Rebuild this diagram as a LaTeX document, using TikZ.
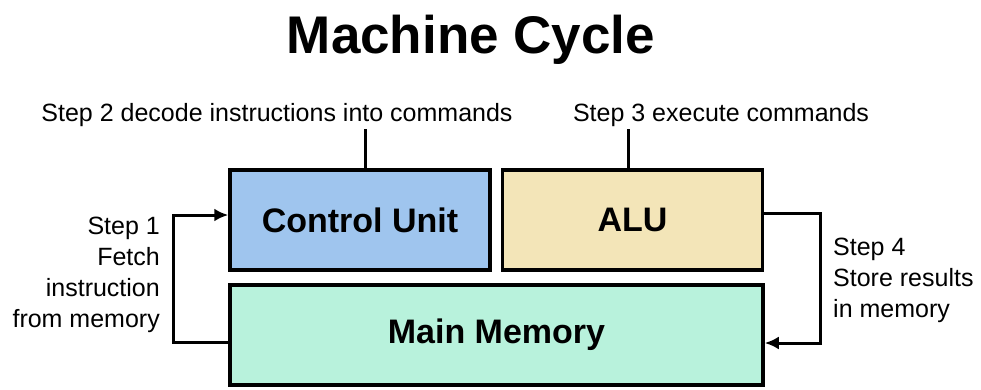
\documentclass[tikz,border=0pt]{standalone}
\usepackage{fontspec}
\setmainfont{Liberation Sans}
\usepackage{xcolor}
\usetikzlibrary{positioning,calc,arrows.meta}
\definecolor{cuBlue}{HTML}{9FC5EE}
\definecolor{aluSand}{HTML}{F3E5B8}
\definecolor{memMint}{HTML}{B8F2DC}
\tikzset{
  unitBox/.style={
    rectangle,
    draw=black,
    line width=3.5pt,
    minimum width=260pt,
    minimum height=100pt,
    align=center,
    font=\fontsize{34}{40}\selectfont\bfseries
  },
  stepText/.style={
    inner sep=2pt,
    font=\fontsize{25}{31}\selectfont
  },
  arrowLine/.style={
    -{Latex[length=14pt,width=13pt]},
    line width=3pt
  },
  plainLine/.style={
    line width=3pt
  }
}

\begin{document}
\begin{tikzpicture}[x=1pt,y=-1pt]
        \useasboundingbox (0,0) rectangle (981,389);
        \node[font=\fontsize{53}{60}\selectfont\bfseries] (title) at (471,40) {Machine Cycle};

        \node[unitBox, fill=cuBlue] (cu) at (360,220) {Control Unit};
        \node[unitBox, fill=aluSand, right=9pt of cu] (alu) {ALU};
        \node[unitBox, fill=memMint, minimum width=533pt] (mm) at (496.5,335) {Main Memory};

        \node[stepText] (step2) at (277,115) {Step 2 decode instructions into commands};
        \node[stepText] (step3) at (721,115) {Step 3 execute commands};
        \node[stepText, align=right, anchor=east] (step1) at (162,275) {Step 1\\Fetch\\instruction\\from memory};
        \node[stepText, align=left, anchor=west] (step4) at (831,280) {Step 4\\Store results\\in memory};

        \draw[plainLine] ([xshift=5pt]cu.north) -- ([xshift=5pt]cu.north |- step2.south);
        \draw[plainLine] ([xshift=-4pt]alu.north) -- ([xshift=-4pt]alu.north |- step3.south);
        \draw[arrowLine] ([yshift=-7pt]mm.west) -- ++(-55,0) |- ([yshift=5pt]cu.west);
        \draw[arrowLine] ([yshift=7pt]alu.east) -- ++(56,0) |- ([yshift=-8pt]mm.east);

    \end{tikzpicture}
\end{document}
